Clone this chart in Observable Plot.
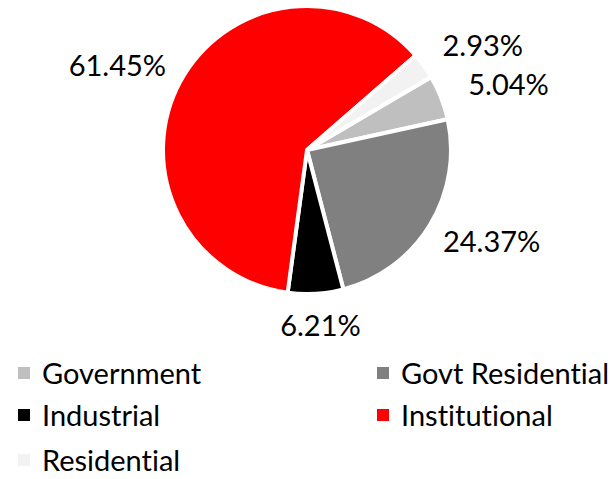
<!DOCTYPE html>
<html><head><meta charset="utf-8">
<script src="https://cdn.jsdelivr.net/npm/d3@7"></script>
<script src="https://cdn.jsdelivr.net/npm/@observablehq/plot@0.6"></script>
<style>
body{margin:0;background:#fff;font-family:Lato,"Open Sans",sans-serif;font-variant-ligatures:none;}
#wrap{position:relative;width:613px;height:479px;overflow:hidden;}
#wrap svg{position:absolute;left:0;top:0;font-variant-ligatures:none;}
.leg{position:absolute;display:flex;align-items:center;font-size:29px;line-height:1;color:#000;white-space:nowrap;}
.leg i{display:inline-block;width:12px;height:12px;margin-right:12px;}
</style></head><body><div id="wrap"></div>
<script>
const categories = ["Government", "Govt Residential", "Industrial", "Institutional", "Residential"];
const shares = [5.04, 24.37, 6.21, 61.45, 2.93];
const shareLabels = ["5.04%", "24.37%", "6.21%", "61.45%", "2.93%"];
const colors = ["#bfbfbf", "#808080", "#000000", "#ff0000", "#f2f2f2"];

const W = 613, H = 345, CX = 307, CY = 150, R = 144;
const startDeg = 59.5;

const data = categories.map((c, i) => ({category: c, value: shares[i], label: shareLabels[i]}));
const arcs = d3.pie().sort(null).value(d => d.value)
  .startAngle(startDeg * Math.PI / 180)
  .endAngle(startDeg * Math.PI / 180 + 2 * Math.PI)(data);
const color = d3.scaleOrdinal(categories, colors);

// label positions (in radius units) on an ellipse around the pie, at slice mid-angles
const rx = (R + 72) / R, ry = (R + 33) / R;
const labelData = arcs.map(a => {
  const m = (a.startAngle + a.endAngle) / 2;
  return {label: a.data.label, lx: Math.sin(m) * rx, ly: Math.cos(m) * ry};
});

function pieMark(index, scales) {
  const x = scales.x, y = scales.y;
  const cx = x(0), cy = y(0), r = x(1) - x(0);
  const g = d3.create("svg:g").attr("transform", `translate(${cx},${cy})`);
  const arc = d3.arc().innerRadius(0).outerRadius(r);
  g.selectAll("path").data(arcs).join("path")
    .attr("d", arc)
    .attr("fill", d => color(d.data.category))
    .attr("stroke", "#fff")
    .attr("stroke-width", 4)
    .attr("stroke-linejoin", "round");
  return g.node();
}

const chart = Plot.plot({
  width: W, height: H,
  margin: 0,
  x: {domain: [-CX / R, (W - CX) / R], axis: null},
  y: {domain: [-(H - CY) / R, CY / R], axis: null},
  style: {fontFamily: "Lato, 'Open Sans', sans-serif", background: "#fff"},
  marks: [
    pieMark,
    Plot.text(labelData, {x: "lx", y: "ly", text: "label", fontSize: 29, fill: "#000"})
  ]
});
const wrap = document.getElementById("wrap");
wrap.appendChild(chart);

// legend (row-major, two columns)
const legPos = [[18, 373], [377, 373], [18, 415], [377, 415], [18, 460]];
categories.forEach((c, i) => {
  const d = document.createElement("div");
  d.className = "leg";
  d.style.left = legPos[i][0] + "px";
  d.style.top = (legPos[i][1] - 15) + "px";
  d.innerHTML = `<i style="background:${colors[i]}"></i><span>${c}</span>`;
  wrap.appendChild(d);
});
</script></body></html>
